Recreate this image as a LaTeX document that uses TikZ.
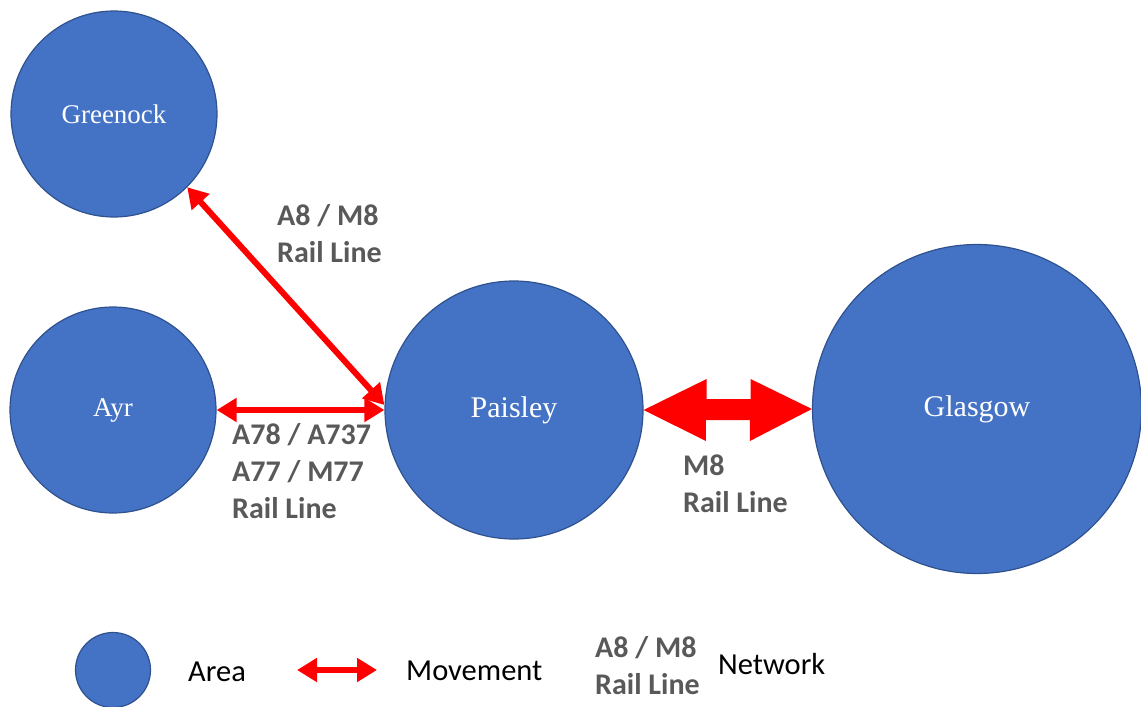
\documentclass[tikz,border=0pt]{standalone}
\usepackage{fontspec}
\setmainfont{Liberation Serif}
\newfontfamily\calibri{Carlito}
\usetikzlibrary{arrows.meta,calc}
\definecolor{areafill}{HTML}{4472C4}
\definecolor{areaedge}{HTML}{2F528F}
\definecolor{netgray}{HTML}{595959}
\definecolor{moved}{HTML}{FF0000}
\tikzset{
  area/.style={circle, fill=areafill, draw=areaedge, line width=1.2pt,
    inner sep=0pt, text=white, font=\fontsize{27}{32}\selectfont},
  bigarea/.style={area, font=\fontsize{30}{36}\selectfont},
  move/.style={draw=moved, line width=6pt,
    {Triangle[length=20pt,width=23pt]}-{Triangle[length=20pt,width=23pt]}},
  netlabel/.style={anchor=base west, align=left, inner sep=0pt, text=netgray,
    font=\calibri\bfseries\fontsize{30}{37}\selectfont},
  legendtext/.style={anchor=base west, inner sep=0pt, text=black,
    font=\calibri\fontsize{30.5}{37}\selectfont},
}
\begin{document}
\begin{tikzpicture}[x=1pt,y=-1pt]
\useasboundingbox (0,0) rectangle (1141,707);

% areas
\node[area, minimum size=206pt] (G) at (114,114) {Greenock};
\node[area, minimum size=206pt] (A) at (113,410) {Ayr};
\node[bigarea, minimum size=258pt] (P) at (514,410) {Paisley};
\node[bigarea, minimum size=329pt] (W) at (977,409) {Glasgow};

% movements
\draw[move] (G.-45) -- ($(P.west)+(0,-5)$);
\draw[move] (A.east) -- (P.west);
\fill[moved] (P.east) -- ++(63,-31) -- ++(0,20) -- ++(44,0) -- ++(0,-20)
  -- (W.west) -- ++(-62,32) -- ++(0,-21) -- ++(-44,0) -- ++(0,21) -- cycle;

% network labels (anchored at the baseline of their last line)
\node[netlabel] (l1) at (277,262) {A8 / M8\\Rail Line};
\node[netlabel] (l2) at (232,518) {A78 / A737\\A77 / M77\\Rail Line};
\node[netlabel] (l3) at (683,512) {M8\\Rail Line};

% legend
\node[area, minimum size=75pt] (ka) at (113,670) {};
\node[legendtext] (kat) at (188,681) {Area};
\coordinate (km1) at (297,670);
\coordinate (km2) at (377,670);
\draw[move] (km1) -- (km2);
\node[legendtext] (kmt) at (406,680) {Movement};
\node[netlabel] (kn) at (595,694) {A8 / M8\\Rail Line};
\node[legendtext] (knt) at (718,674) {Network};
\end{tikzpicture}
\end{document}
